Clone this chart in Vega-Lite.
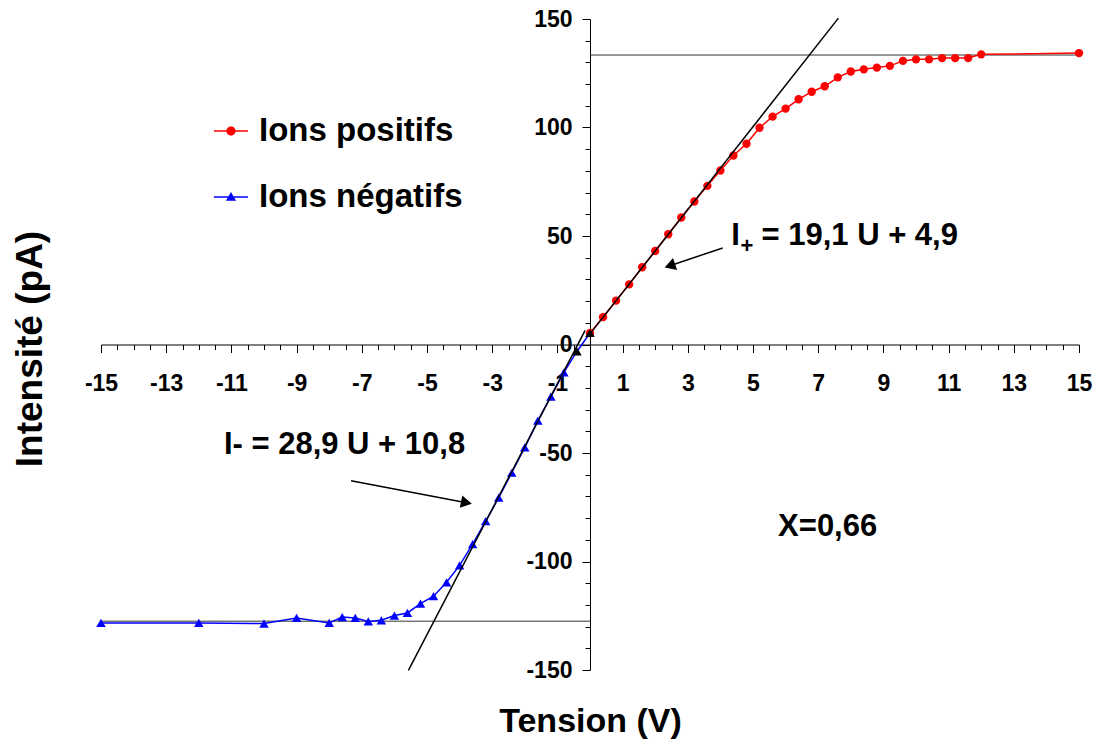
{
  "$schema": "https://vega.github.io/schema/vega-lite/v6.json",
  "width": 978,
  "height": 651,
  "autosize": "none",
  "padding": {"left": 101, "top": 19, "right": 19, "bottom": 75},
  "background": "white",
  "config": {"view": {"stroke": null}, "font": "Liberation Sans"},
  "datasets": {
    "pts": [
      {"s": "Ions positifs", "U": 0, "I": 5.3},
      {"s": "Ions positifs", "U": 0.4, "I": 12.6},
      {"s": "Ions positifs", "U": 0.8, "I": 20.2},
      {"s": "Ions positifs", "U": 1.2, "I": 27.7},
      {"s": "Ions positifs", "U": 1.6, "I": 35.6},
      {"s": "Ions positifs", "U": 2.0, "I": 43.1},
      {"s": "Ions positifs", "U": 2.4, "I": 50.8},
      {"s": "Ions positifs", "U": 2.8, "I": 58.5},
      {"s": "Ions positifs", "U": 3.2, "I": 65.9},
      {"s": "Ions positifs", "U": 3.6, "I": 73.1},
      {"s": "Ions positifs", "U": 4.0, "I": 80.2},
      {"s": "Ions positifs", "U": 4.4, "I": 87.1},
      {"s": "Ions positifs", "U": 4.8, "I": 92.5},
      {"s": "Ions positifs", "U": 5.2, "I": 99.9},
      {"s": "Ions positifs", "U": 5.6, "I": 105.0},
      {"s": "Ions positifs", "U": 6.0, "I": 108.7},
      {"s": "Ions positifs", "U": 6.4, "I": 113.0},
      {"s": "Ions positifs", "U": 6.8, "I": 116.5},
      {"s": "Ions positifs", "U": 7.2, "I": 119.0},
      {"s": "Ions positifs", "U": 7.6, "I": 123.1},
      {"s": "Ions positifs", "U": 8.0, "I": 125.8},
      {"s": "Ions positifs", "U": 8.4, "I": 126.8},
      {"s": "Ions positifs", "U": 8.8, "I": 127.6},
      {"s": "Ions positifs", "U": 9.2, "I": 128.4},
      {"s": "Ions positifs", "U": 9.6, "I": 130.7},
      {"s": "Ions positifs", "U": 10.0, "I": 131.4},
      {"s": "Ions positifs", "U": 10.4, "I": 131.4},
      {"s": "Ions positifs", "U": 10.8, "I": 132.0},
      {"s": "Ions positifs", "U": 11.2, "I": 132.0},
      {"s": "Ions positifs", "U": 11.6, "I": 132.0},
      {"s": "Ions positifs", "U": 12.0, "I": 133.7},
      {"s": "Ions positifs", "U": 15.0, "I": 134.3},
      {"s": "Ions négatifs", "U": -15, "I": -128.3},
      {"s": "Ions négatifs", "U": -12, "I": -128.3},
      {"s": "Ions négatifs", "U": -10, "I": -128.6},
      {"s": "Ions négatifs", "U": -9, "I": -126.0},
      {"s": "Ions négatifs", "U": -8, "I": -128.3},
      {"s": "Ions négatifs", "U": -7.6, "I": -125.6},
      {"s": "Ions négatifs", "U": -7.2, "I": -126.0},
      {"s": "Ions négatifs", "U": -6.8, "I": -127.6},
      {"s": "Ions négatifs", "U": -6.4, "I": -127.1},
      {"s": "Ions négatifs", "U": -6.0, "I": -124.9},
      {"s": "Ions négatifs", "U": -5.6, "I": -123.7},
      {"s": "Ions négatifs", "U": -5.2, "I": -119.4},
      {"s": "Ions négatifs", "U": -4.8, "I": -116.0},
      {"s": "Ions négatifs", "U": -4.4, "I": -109.6},
      {"s": "Ions négatifs", "U": -4.0, "I": -101.8},
      {"s": "Ions négatifs", "U": -3.6, "I": -92.0},
      {"s": "Ions négatifs", "U": -3.2, "I": -81.4},
      {"s": "Ions négatifs", "U": -2.8, "I": -70.6},
      {"s": "Ions négatifs", "U": -2.4, "I": -59.1},
      {"s": "Ions négatifs", "U": -2.0, "I": -47.4},
      {"s": "Ions négatifs", "U": -1.6, "I": -35.1},
      {"s": "Ions négatifs", "U": -1.2, "I": -24.0},
      {"s": "Ions négatifs", "U": -0.8, "I": -12.8},
      {"s": "Ions négatifs", "U": -0.4, "I": -3.2},
      {"s": "Ions négatifs", "U": 0, "I": 5.3}
    ],
    "fits": [
      {"g": "p", "U": 0, "I": 4.9},
      {"g": "p", "U": 7.62, "I": 150.4},
      {"g": "n", "U": -5.57, "I": -150.2},
      {"g": "n", "U": -0.15, "I": 6.5}
    ],
    "refs": [
      {"U": 0, "U2": 15, "I": 133.4},
      {"U": -15, "U2": 0, "I": -127.5}
    ]
  },
  "encoding": {
    "x": {
      "field": "U", "type": "quantitative",
      "scale": {"domain": [-15, 15], "nice": false, "zero": false},
      "axis": {
        "orient": "bottom", "offset": -325.5, "grid": false,
        "values": [-15,-14.5,-14,-13.5,-13,-12.5,-12,-11.5,-11,-10.5,-10,-9.5,-9,-8.5,-8,-7.5,-7,-6.5,-6,-5.5,-5,-4.5,-4,-3.5,-3,-2.5,-2,-1.5,-1,-0.5,0,0.5,1,1.5,2,2.5,3,3.5,4,4.5,5,5.5,6,6.5,7,7.5,8,8.5,9,9.5,10,10.5,11,11.5,12,12.5,13,13.5,14,14.5,15],
        "labelExpr": "abs(datum.value % 2) == 1 ? toString(datum.value) : ''",
        "tickSize": {"condition": {"test": "abs(datum.value % 2) == 1", "value": 8}, "value": 5},
        "labelPadding": 20, "labelOverlap": false, "labelFlush": false,
        "domainColor": "black", "tickColor": "black", "domainWidth": 1, "tickWidth": 1,
        "labelFont": "Liberation Sans", "labelFontSize": 23, "labelFontWeight": "bold", "labelColor": "black",
        "title": "Tension (V)", "titleX": 489, "titleY": 377, "titleAlign": "center", "titleBaseline": "middle",
        "titleFont": "Liberation Sans", "titleFontSize": 34, "titleFontWeight": "bold", "titleColor": "black"
      }
    },
    "y": {
      "field": "I", "type": "quantitative",
      "scale": {"domain": [-150, 150], "nice": false, "zero": false},
      "axis": {
        "orient": "left", "offset": -489, "grid": false,
        "values": [-150,-140,-130,-120,-110,-100,-90,-80,-70,-60,-50,-40,-30,-20,-10,0,10,20,30,40,50,60,70,80,90,100,110,120,130,140,150],
        "labelExpr": "datum.value % 50 == 0 ? toString(datum.value) : ''",
        "tickSize": {"condition": {"test": "datum.value % 50 == 0", "value": 8}, "value": 5},
        "labelPadding": 10, "labelOverlap": false, "labelFlush": false,
        "domainColor": "black", "tickColor": "black", "domainWidth": 1, "tickWidth": 1,
        "labelFont": "Liberation Sans", "labelFontSize": 23, "labelFontWeight": "bold", "labelColor": "black",
        "title": "Intensité (pA)", "titleX": -560, "titleY": 329.5, "titleAngle": -90, "titleAlign": "center", "titleBaseline": "middle",
        "titleFont": "Liberation Sans", "titleFontSize": 37, "titleFontWeight": "bold", "titleColor": "black"
      }
    }
  },
  "layer": [
    {
      "data": {"name": "refs"},
      "mark": {"type": "rule", "color": "#333333", "strokeWidth": 1},
      "encoding": {"x2": {"field": "U2"}}
    },
    {
      "data": {"name": "pts"},
      "transform": [{"filter": "datum.s === 'Ions positifs'"}],
      "mark": {"type": "line", "strokeWidth": 1.5, "color": "#ff0000"}
    },
    {
      "data": {"name": "pts"},
      "transform": [{"filter": "datum.s === 'Ions négatifs'"}],
      "mark": {"type": "line", "strokeWidth": 1.5, "color": "#0000ff"}
    },
    {
      "data": {"name": "pts"},
      "transform": [{"filter": "datum.s === 'Ions positifs'"}],
      "mark": {"type": "point", "filled": true, "opacity": 1, "size": 70, "shape": "circle", "color": "#ff0000"}
    },
    {
      "data": {"name": "pts"},
      "transform": [{"filter": "datum.s === 'Ions négatifs' && datum.U < -0.5"}],
      "mark": {"type": "point", "filled": true, "opacity": 1, "size": 90, "shape": "triangle-up", "color": "#0000ff"}
    },
    {
      "data": {"name": "pts"},
      "transform": [{"filter": "datum.s === 'Ions négatifs' && datum.U > -0.5"}],
      "mark": {"type": "point", "filled": true, "opacity": 1, "size": 90, "shape": "triangle-up", "color": "black"}
    },
    {
      "data": {"name": "pts"},
      "transform": [{"filter": "false"}],
      "mark": {"type": "point", "filled": true, "opacity": 1},
      "encoding": {
        "color": {
          "field": "s", "type": "nominal",
          "scale": {"domain": ["Ions positifs", "Ions négatifs"], "range": ["#ff0000", "#0000ff"]},
          "legend": {
            "orient": "none", "legendX": 112, "legendY": 94, "title": null, "padding": 0,
            "labelFont": "Liberation Sans", "labelFontSize": 33, "labelFontWeight": "bold", "labelColor": "black", "labelLimit": 500,
            "symbolSize": 1156, "rowPadding": 31, "labelOffset": 10
          }
        },
        "shape": {
          "field": "s", "type": "nominal",
          "scale": {"domain": ["Ions positifs", "Ions négatifs"], "range": ["M-1,-0.05L1,-0.05L1,0.05L-1,0.05Z M0.27,0A0.27,0.27,0,1,1,-0.27,0A0.27,0.27,0,1,1,0.27,0Z", "M-1,-0.05L1,-0.05L1,0.05L-1,0.05Z M0,-0.3L0.3,0.22L-0.3,0.22Z"]},
          "legend": {
            "orient": "none", "legendX": 112, "legendY": 94, "title": null, "padding": 0,
            "labelFont": "Liberation Sans", "labelFontSize": 33, "labelFontWeight": "bold", "labelColor": "black", "labelLimit": 500,
            "symbolSize": 1156, "rowPadding": 31, "labelOffset": 10
          }
        }
      }
    },
    {
      "data": {"name": "fits"},
      "mark": {"type": "line", "color": "black", "strokeWidth": 1.5},
      "encoding": {"detail": {"field": "g"}}
    },
    {
      "data": {"values": [{"U": 4.07, "I": 44.5, "U2": 2.45, "I2": 36.3}, {"U": -7.33, "I": -62.8, "U2": -3.79, "I2": -72.9}]},
      "mark": {"type": "rule", "color": "black", "strokeWidth": 1.5},
      "encoding": {"x2": {"field": "U2"}, "y2": {"field": "I2"}}
    },
    {
      "data": {"values": [{"U": 2.45, "I": 36.3}]},
      "mark": {"type": "point", "shape": "triangle-up", "filled": true, "color": "black", "opacity": 1, "size": 160, "angle": 251}
    },
    {
      "data": {"values": [{"U": -3.79, "I": -72.9}]},
      "mark": {"type": "point", "shape": "triangle-up", "filled": true, "color": "black", "opacity": 1, "size": 160, "angle": 101}
    },
    {
      "data": {"values": [{"U": 4.33, "I": 50.2, "t": "I"}, {"U": 5.26, "I": 50.2, "t": "= 19,1 U + 4,9"}, {"U": -11.23, "I": -46.2, "t": "I- = 28,9 U + 10,8"}, {"U": 5.77, "I": -84.2, "t": "X=0,66"}]},
      "mark": {"type": "text", "align": "left", "baseline": "middle", "font": "Liberation Sans", "fontSize": 31, "fontWeight": "bold", "color": "black"},
      "encoding": {"text": {"field": "t"}}
    },
    {
      "data": {"values": [{"U": 4.62, "I": 45.5, "t": "+"}]},
      "mark": {"type": "text", "align": "left", "baseline": "middle", "font": "Liberation Sans", "fontSize": 22, "fontWeight": "bold", "color": "black"},
      "encoding": {"text": {"field": "t"}}
    }
  ]
}
